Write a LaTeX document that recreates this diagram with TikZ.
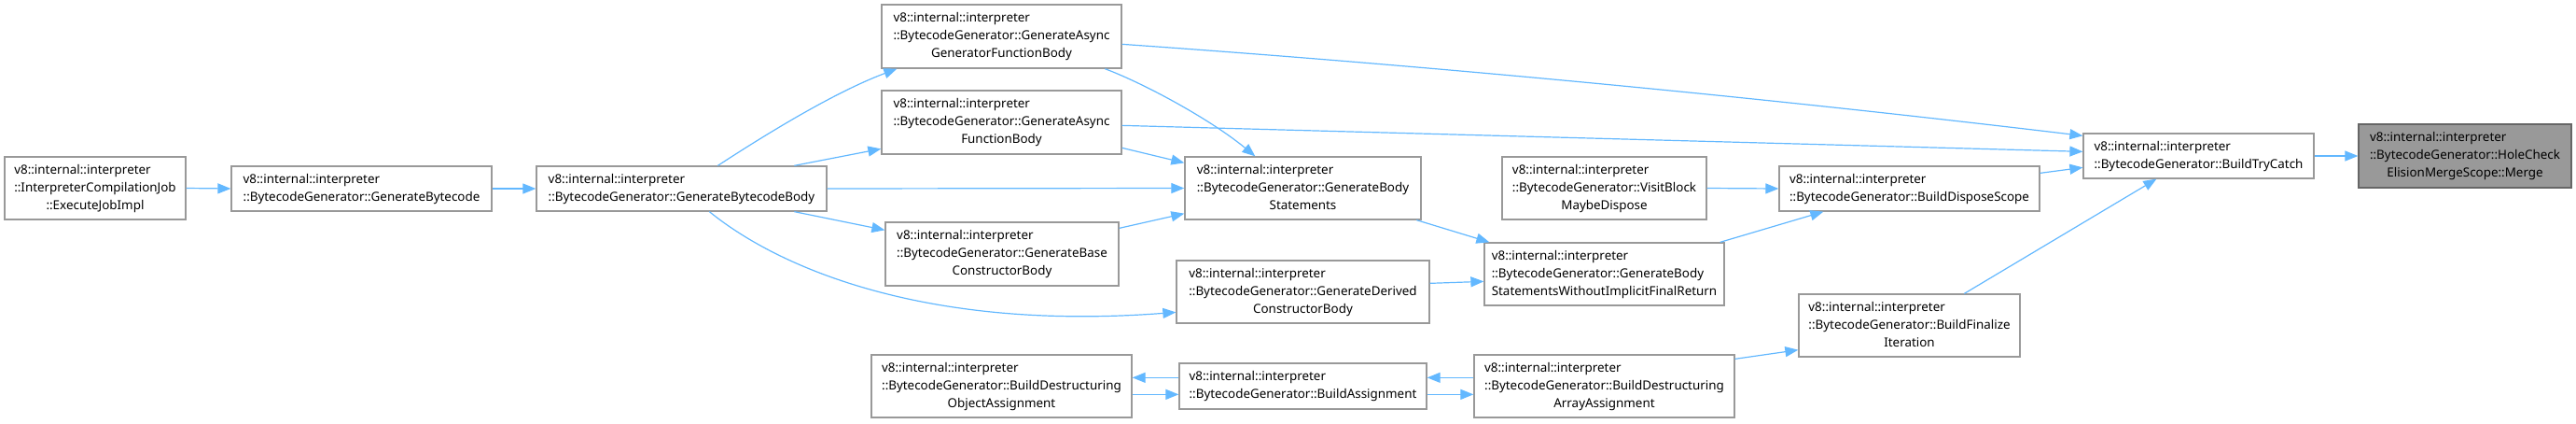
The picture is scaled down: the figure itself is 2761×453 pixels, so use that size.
\documentclass[tikz,border=0pt]{standalone}
\usepackage{fontspec}
\setmainfont{Noto Sans}
\usetikzlibrary{arrows.meta,calc}
\definecolor{edgeblue}{HTML}{63B8FF}
\definecolor{boxgray}{HTML}{999999}
\definecolor{darkgray}{HTML}{666666}
\newcommand\twol[2]{\begin{tabular}{@{}l@{}}#1\\#2\end{tabular}}
\newcommand\threel[3]{\begin{tabular}{@{}l@{}}#1\\#2\\\multicolumn{1}{@{}c@{}}{#3}\end{tabular}}
\newcommand\vii{v8::internal::interpreter}
\newcommand\bg{::BytecodeGenerator::}
\begin{document}
\begin{tikzpicture}[x=1pt,y=-1pt,
  box/.style={draw=boxgray, line width=1.3pt, fill=white, inner sep=0pt,
    font=\fontsize{13.4}{19}\selectfont, text=black},
  hl/.style={box, fill=boxgray, draw=darkgray},
  edge/.style={draw=edgeblue, line width=1.2pt, -{Triangle[length=14pt,width=11pt]}}]
\useasboundingbox (0,0) rectangle (2761,453);
% nodes
\node[box, minimum width=194pt, minimum height=67pt] (ej) at (102,201.5) {\threel{\vii}{::InterpreterCompilationJob}{::ExecuteJobImpl}};
\node[box, minimum width=279pt, minimum height=48pt] (gb) at (387.5,202) {\twol{\vii}{\bg GenerateBytecode}};
\node[box, minimum width=311pt, minimum height=48pt] (gbb) at (730.5,202) {\twol{\vii}{\bg GenerateBytecodeBody}};
\node[box, minimum width=257pt, minimum height=68pt] (agf) at (1073.5,39) {\threel{\vii}{\bg GenerateAsync}{GeneratorFunctionBody}};
\node[box, minimum width=257pt, minimum height=68pt] (af) at (1073.5,131) {\threel{\vii}{\bg GenerateAsync}{FunctionBody}};
\node[box, minimum width=250pt, minimum height=68pt] (bc) at (1074,272) {\threel{\vii}{\bg GenerateBase}{ConstructorBody}};
\node[box, minimum width=253pt, minimum height=67pt] (gbs) at (1396.5,201.5) {\threel{\vii}{\bg GenerateBody}{Statements}};
\node[box, minimum width=271pt, minimum height=67pt] (dc) at (1396.5,312.5) {\threel{\vii}{\bg GenerateDerived}{ConstructorBody}};
\node[box, minimum width=279pt, minimum height=67pt] (doa) at (1073.5,413.5) {\threel{\vii}{\bg BuildDestructuring}{ObjectAssignment}};
\node[box, minimum width=265pt, minimum height=49pt] (ba) at (1396.5,413.5) {\twol{\vii}{\bg BuildAssignment}};
\node[box, minimum width=219pt, minimum height=67pt] (vb) at (1719.5,201.5) {\threel{\vii}{\bg VisitBlock}{MaybeDispose}};
\node[box, minimum width=257pt, minimum height=67pt] (gbsw) at (1719.5,293.5) {\threel{\vii}{\bg GenerateBody}{StatementsWithoutImplicitFinalReturn}};
\node[box, minimum width=279pt, minimum height=67pt] (daa) at (1719.5,413.5) {\threel{\vii}{\bg BuildDestructuring}{ArrayAssignment}};
\node[box, minimum width=279pt, minimum height=48pt] (bds) at (2046.5,202) {\twol{\vii}{\bg BuildDisposeScope}};
\node[box, minimum width=237pt, minimum height=67pt] (bfi) at (2046.5,348.5) {\threel{\vii}{\bg BuildFinalize}{Iteration}};
\node[box, minimum width=247pt, minimum height=48pt] (btc) at (2356.5,167) {\twol{\vii}{\bg BuildTryCatch}};
\node[hl, minimum width=228pt, minimum height=68pt] (m) at (2642,167) {\threel{\vii}{\bg HoleCheck}{ElisionMergeScope::Merge}};
% edges
\draw[edge] (ej.east) -- (gb.west);
\draw[edge] (gb.east) -- (gbb.west);
\draw[edge] ($(gbb.north west)+(195,0)$) .. controls ($(gbb.north west)+(235,-26)$) and ($(agf.south west)+(-55,27)$) .. ($(agf.south west)+(17,0)$);
\draw[edge] ($(gbb.north west)+(277,0)$) -- ($(af.north west)+(0,63)$);
\draw[edge] (gbb.east) -- (gbs.west);
\draw[edge] ($(gbb.south west)+(277,0)$) -- ($(bc.north west)+(0,9)$);
\draw[edge] ($(gbb.south west)+(186,0)$) .. controls ($(gbb.south west)+(265,64)$) and ($(dc.north west)+(-261,76)$) .. ($(dc.north west)+(0,56)$);
\draw[edge] ($(agf.south west)+(240,0)$) .. controls ($(agf.south west)+(285,17)$) and ($(gbs.north west)+(30,-38)$) .. ($(gbs.north west)+(76,0)$);
\draw[edge] ($(af.north east)+(0,62)$) -- ($(gbs.north west)+(0,7)$);
\draw[edge] ($(bc.north east)+(0,7)$) -- ($(gbs.south west)+(0,-7)$);
\draw[edge] ($(agf.north east)+(0,43)$) .. controls ($(agf.north east)+(343,67)$) and ($(btc.north west)+(-344,-38)$) .. ($(btc.north west)+(0,3)$);
\draw[edge] ($(af.north east)+(0,38)$) -- ($(btc.north west)+(0,20)$);
\draw[edge] ($(gbs.south west)+(249,0)$) -- ($(gbsw.north west)+(6,0)$);
\draw[edge] ($(dc.north east)+(0,25)$) -- ($(gbsw.north west)+(0,42)$);
\draw[edge] (vb.east) -- (bds.west);
\draw[edge] ($(gbsw.north east)+(-5,0)$) -- ($(bds.south west)+(48,0)$);
\draw[edge] ($(bds.north east)+(0,8)$) -- ($(btc.north west)+(0,37)$);
\draw[edge] ($(bfi.north west)+(178,0)$) -- ($(btc.south west)+(79,0)$);
\draw[edge] (btc.east) -- (m.west);
\draw[edge] ($(daa.north east)+(0,5)$) -- ($(bfi.south west)+(0,-8)$);
\draw[edge] ($(daa.north west)+(0,25)$) -- ($(ba.north east)+(0,16)$);
\draw[edge] ($(ba.north east)+(0,34)$) -- ($(daa.north west)+(0,43)$);
\draw[edge] ($(ba.north west)+(0,16)$) -- ($(doa.north east)+(0,25)$);
\draw[edge] ($(doa.north east)+(0,43)$) -- ($(ba.north west)+(0,34)$);
\end{tikzpicture}
\end{document}
